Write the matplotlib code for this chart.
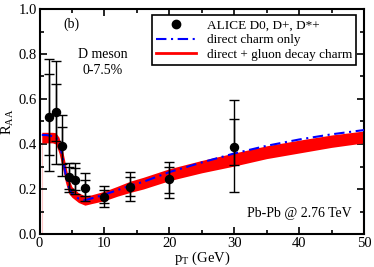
import matplotlib
matplotlib.use("Agg")
import matplotlib.pyplot as plt
from matplotlib.ticker import MultipleLocator
from matplotlib.lines import Line2D

plt.rcParams['font.family'] = ['Liberation Serif', 'DejaVu Serif']
plt.rcParams['mathtext.fontset'] = 'custom'
plt.rcParams['mathtext.rm'] = 'Liberation Serif'
plt.rcParams['mathtext.it'] = 'Liberation Serif:italic'

# ALICE D0, D+, D*+ data (0-7.5%)
pt_data = [1.5, 2.5, 3.5, 4.5, 5.5, 7, 10, 14, 20, 30]
raa_data = [0.52, 0.54, 0.39, 0.252, 0.24, 0.206, 0.166, 0.21, 0.243, 0.388]
stat_lo = [0.35, 0.413, 0.31, 0.20, 0.196, 0.169, 0.136, 0.169, 0.184, 0.308]
stat_hi = [0.71, 0.667, 0.477, 0.30, 0.292, 0.24, 0.196, 0.252, 0.296, 0.51]
syst_lo = [0.28, 0.31, 0.26, 0.185, 0.178, 0.147, 0.119, 0.147, 0.161, 0.185]
syst_hi = [0.776, 0.77, 0.53, 0.317, 0.314, 0.27, 0.215, 0.274, 0.319, 0.596]

# model curves
pt_model = [0.35, 1, 2, 2.5, 3, 3.5, 4, 4.5, 5, 6, 7, 8, 10, 12, 14, 16, 20, 25, 30, 35, 40, 45, 50]
band_lo = [0.405, 0.405, 0.405, 0.40, 0.36, 0.30, 0.23, 0.18, 0.163, 0.14, 0.128, 0.135,
           0.148, 0.168, 0.185, 0.20, 0.237, 0.272, 0.302, 0.335, 0.36, 0.385, 0.405]
band_hi = [0.452, 0.452, 0.452, 0.45, 0.43, 0.38, 0.31, 0.245, 0.21, 0.183, 0.17, 0.174,
           0.19, 0.212, 0.235, 0.252, 0.29, 0.327, 0.36, 0.392, 0.417, 0.44, 0.458]
direct = [0.44, 0.44, 0.435, 0.43, 0.41, 0.35, 0.27, 0.21, 0.18, 0.158, 0.15, 0.158,
          0.175, 0.195, 0.215, 0.232, 0.275, 0.318, 0.358, 0.392, 0.42, 0.443, 0.462]

fig = plt.figure(figsize=(3.74, 2.67), dpi=100)
ax = fig.add_axes([39.5/374, 33/267, (364-39.5)/374, (234-9)/267])

# faint edges of band
ax.plot([pt_model[0], pt_model[0]], [0, band_lo[0]], color='#ffc8c8', lw=0.8, zorder=1)
ax.plot([pt_model[-1] - 0.2, pt_model[-1] - 0.2], [0, band_lo[-1]], color='#ffc8c8', lw=0.8, zorder=1)

ax.fill_between(pt_model, band_lo, band_hi, color='red', lw=0, zorder=2)
ax.plot(pt_model, direct, color='blue', lw=1.5, dashes=(5, 2.2, 1, 2.2), zorder=3)

yerr_syst = [[r - l for r, l in zip(raa_data, syst_lo)], [h - r for r, h in zip(raa_data, syst_hi)]]
yerr_stat = [[r - l for r, l in zip(raa_data, stat_lo)], [h - r for r, h in zip(raa_data, stat_hi)]]
ax.errorbar(pt_data, raa_data, yerr=yerr_syst, fmt='none', ecolor='black', elinewidth=1.0,
            capsize=3.5, capthick=1.0, zorder=4)
ax.errorbar(pt_data, raa_data, yerr=yerr_stat, fmt='none', ecolor='black', elinewidth=1.0,
            capsize=3.5, capthick=1.0, zorder=4)
ax.plot(pt_data, raa_data, 'o', color='black', ms=5.8, zorder=5)

ax.set_xlim(0, 50)
ax.set_ylim(0, 1.0)
ax.xaxis.set_major_locator(MultipleLocator(10))
ax.xaxis.set_minor_locator(MultipleLocator(5))
ax.yaxis.set_major_locator(MultipleLocator(0.2))
ax.yaxis.set_minor_locator(MultipleLocator(0.1))
ax.set_yticklabels([f"{v:.1f}" for v in ax.get_yticks()])
ax.tick_params(which='both', direction='in', top=True, right=True, labelsize=10.5, width=1.2, pad=2)
ax.tick_params(which='major', length=5)
ax.tick_params(which='minor', length=3)
for s in ax.spines.values():
    s.set_linewidth(1.5)

ax.set_xlabel(r"p$_\mathrm{T}$ (GeV)", fontsize=10.5, labelpad=0)
ax.set_ylabel(r"R$_\mathrm{AA}$", fontsize=10.5, labelpad=2)

ax.text(4.95, 0.93, "(b)", fontsize=10, ha='center', va='center')
ax.text(9.7, 0.80, "D meson", fontsize=10, ha='center', va='center')
ax.text(9.7, 0.725, "0-7.5%", fontsize=10, ha='center', va='center')
ax.text(48.1, 0.089, "Pb-Pb @ 2.76 TeV", fontsize=10, ha='right', va='center')

handles = [Line2D([], [], marker='o', color='black', ls='none', ms=6),
           Line2D([], [], color='blue', lw=1.5, dashes=(5, 2.2, 1, 2.2)),
           Line2D([], [], color='red', lw=2)]
labels = ["ALICE D0, D+, D*+", "direct charm only", "direct + gluon decay charm"]
leg = ax.legend(handles, labels, loc='upper right', bbox_to_anchor=(0.975, 0.973),
                fontsize=9.5, frameon=True, fancybox=False, framealpha=1,
                edgecolor='black', handlelength=3.0, handletextpad=0.8,
                borderpad=0.3, labelspacing=0.2, borderaxespad=0)
leg.get_frame().set_linewidth(1.2)

fig.savefig("out.png", dpi=100)
